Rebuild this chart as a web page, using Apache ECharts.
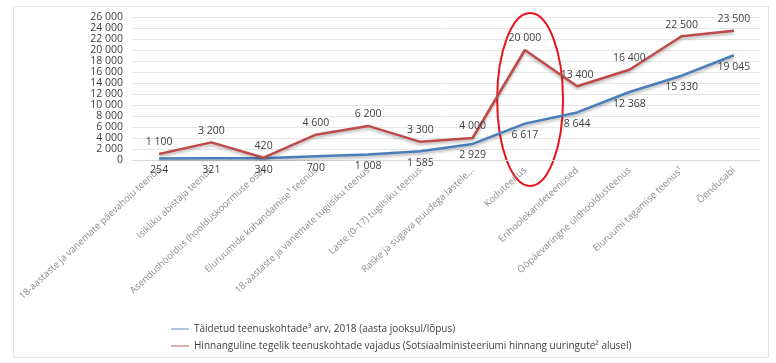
<!DOCTYPE html>
<html><head><meta charset="utf-8">
<script src="https://cdn.jsdelivr.net/npm/echarts@6/dist/echarts.min.js"></script>
<style>html,body{margin:0;padding:0;background:#fff}#c{width:776px;height:363px}</style>
</head><body><div id="c"></div>
<script>
const categories = [
  "18-aastaste ja vanemate päevahoiu teenus",
  "Isikliku abistaja teenus",
  "Asendushooldus (hoolduskoormuse osa)",
  "Eluruumide kohandamise¹ teenus",
  "18-aastaste ja vanemate tugiisiku teenus",
  "Laste (0-17) tugiisiku teenus",
  "Raske ja sügava puudega lastele...",
  "Koduteenus",
  "Erihoolekandeteenused",
  "Ööpäevaringne üldhooldusteenus",
  "Eluruumi tagamise teenus¹",
  "Õendusabi"
];
const filled = [254, 321, 340, 700, 1008, 1585, 2929, 6617, 8644, 12368, 15330, 19045];
const need = [1100, 3200, 420, 4600, 6200, 3300, 4000, 20000, 13400, 16400, 22500, 23500];
const seriesNames = [
  "Täidetud teenuskohtade³ arv, 2018 (aasta jooksul/lõpus)",
  "Hinnanguline tegelik teenuskohtade vajadus (Sotsiaalministeeriumi hinnang uuringute² alusel)"
];
const highlightCategory = "Koduteenus";

const fmt = v => String(v).replace(/\B(?=(\d{3})+(?!\d))/g, "\u00a0");
const FONT = "Open Sans";
const chart = echarts.init(document.getElementById('c'), null, {renderer: 'canvas'});
chart.setOption({
  animation: false,
  textStyle: {fontFamily: FONT},
  grid: {left: 133, right: 16, top: 17, bottom: 203, containLabel: false},
  legend: {
    orient: 'vertical', left: 166, top: 319, itemGap: 7,
    itemWidth: 18, itemHeight: 10,
    icon: 'path://M0,4.5H20V5.5H0Z',
    textStyle: {fontFamily: FONT, fontSize: 10, color: '#404040'},
    data: seriesNames
  },
  xAxis: {
    type: 'category', data: categories, boundaryGap: true,
    axisLine: {lineStyle: {color: '#d9d9d9'}},
    axisTick: {show: false},
    axisLabel: {rotate: 43, interval: 0, margin: 9, fontSize: 9.5, color: '#8c8c8c', fontFamily: FONT}
  },
  yAxis: {
    type: 'value', min: 0, max: 26000, interval: 2000,
    axisLine: {show: false}, axisTick: {show: false},
    axisLabel: {margin: 10, fontSize: 10.5, color: '#404040', formatter: v => fmt(v), fontFamily: FONT},
    splitLine: {lineStyle: {color: '#e6e6e6'}}
  },
  series: [
    {
      name: seriesNames[0], type: 'line', data: filled, symbol: 'circle', symbolSize: 0.1, showSymbol: true,
      lineStyle: {color: '#4a7ebb', width: 2.5, shadowColor: 'rgba(0,0,0,0.3)', shadowBlur: 3, shadowOffsetY: 2},
      itemStyle: {color: '#4a7ebb'},
      labelLayout: {hideOverlap: false},
      label: {show: true, position: 'bottom', distance: 6, fontSize: 10.5, color: '#404040', formatter: p => fmt(p.value), fontFamily: FONT}
    },
    {
      name: seriesNames[1], type: 'line', data: need, symbol: 'circle', symbolSize: 0.1, showSymbol: true,
      lineStyle: {color: '#be4b48', width: 2.5, shadowColor: 'rgba(0,0,0,0.3)', shadowBlur: 3, shadowOffsetY: 2},
      itemStyle: {color: '#c0504d'},
      labelLayout: {hideOverlap: false},
      label: {show: true, position: 'top', distance: 6, fontSize: 10.5, color: '#404040', formatter: p => fmt(p.value), fontFamily: FONT}
    }
  ]
});
// annotation ellipse around highlighted category, placed via the chart's scales
const hIdx = categories.indexOf(highlightCategory);
const ptTop = chart.convertToPixel({gridIndex: 0}, [hIdx, 26000]);
const ptMid = chart.convertToPixel({gridIndex: 0}, [hIdx, 11000]);
const bandW = chart.convertToPixel({gridIndex: 0}, [hIdx + 1, 0])[0] - ptMid[0];
chart.setOption({
  graphic: [
    {type: 'rect', shape: {x: 13.5, y: 6.5, width: 755, height: 351}, style: {fill: 'none', stroke: '#dde4ec', lineWidth: 1}, silent: true},
    {type: 'ellipse', shape: {cx: ptMid[0] + bandW * 0.1, cy: ptMid[1], rx: bandW * 0.63, ry: ptMid[1] - ptTop[1] + 4}, style: {fill: 'none', stroke: '#e8141b', lineWidth: 2}, silent: true}
  ]
});
</script></body></html>
